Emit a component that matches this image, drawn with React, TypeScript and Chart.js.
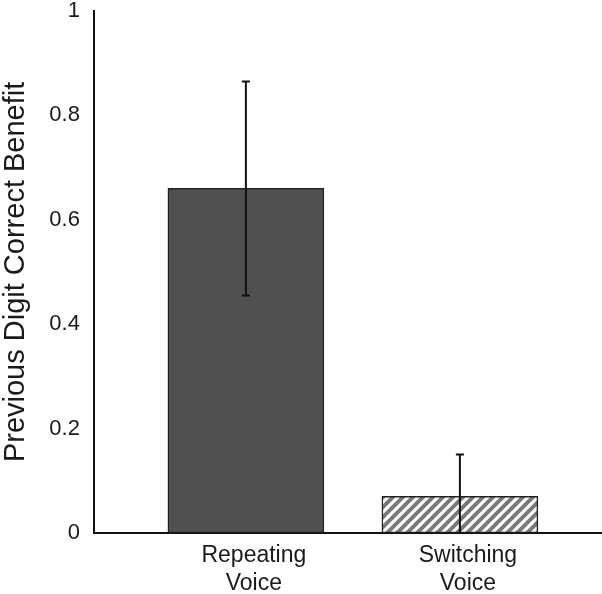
import React, { useEffect, useRef } from "react";
import { Chart, registerables } from "chart.js";

Chart.register(...registerables);

const categories: string[][] = [["Repeating", "Voice"], ["Switching", "Voice"]];
const positions = [1, 2];
const values = [0.66, 0.07];
const errors = [0.205, 0.08];
const yTicks = [0, 0.2, 0.4, 0.6, 0.8, 1];
const yTitle = "Previous Digit Correct Benefit";

const FONT = "'Liberation Sans', Arial, Helvetica, sans-serif";

function makeHatch(): CanvasPattern | string {
  const c = document.createElement("canvas");
  c.width = 10;
  c.height = 10;
  const g = c.getContext("2d");
  if (!g) return "#888";
  g.fillStyle = "#ffffff";
  g.fillRect(0, 0, 10, 10);
  g.strokeStyle = "#7a7a7a";
  g.lineWidth = 4;
  g.beginPath();
  g.moveTo(-2, 12); g.lineTo(12, -2);
  g.moveTo(-7, 7); g.lineTo(7, -7);
  g.moveTo(3, 17); g.lineTo(17, 3);
  g.stroke();
  const p = g.createPattern(c, "repeat");
  return p || "#888";
}

const errorBars = {
  id: "errorBars",
  afterDatasetsDraw(chart: any) {
    const { ctx, chartArea, scales } = chart;
    const y = scales.y;
    const meta = chart.getDatasetMeta(0);
    ctx.save();
    ctx.beginPath();
    ctx.rect(chartArea.left, chartArea.top, chartArea.right - chartArea.left, chartArea.bottom - chartArea.top);
    ctx.clip();
    ctx.strokeStyle = "#111";
    ctx.lineWidth = 2;
    values.forEach((v, i) => {
      const el = meta.data[i];
      const px = el.x;
      const top = y.getPixelForValue(v + errors[i]);
      const bot = y.getPixelForValue(v - errors[i]);
      ctx.beginPath();
      ctx.moveTo(px, top);
      ctx.lineTo(px, bot);
      ctx.moveTo(px - 4, top);
      ctx.lineTo(px + 4, top);
      ctx.moveTo(px - 4, bot);
      ctx.lineTo(px + 4, bot);
      ctx.stroke();
    });
    ctx.restore();
  },
};

export default function App() {
  const ref = useRef<HTMLCanvasElement>(null);
  useEffect(() => {
    if (!ref.current) return;
    const hatch = makeHatch();
    const chart = new Chart(ref.current, {
      type: "bar",
      data: {
        datasets: [
          {
            data: positions.map((p, i) => ({ x: p, y: values[i] })),
            backgroundColor: ["#505050", hatch as any],
            borderColor: "#222",
            borderWidth: 1.5,
            borderSkipped: false,
            barThickness: 156,
          },
        ],
      },
      options: {
        animation: false,
        responsive: false,
        maintainAspectRatio: false,
        layout: { padding: { left: -2, right: 0, top: 0, bottom: -12 } },
        plugins: { legend: { display: false }, tooltip: { enabled: false } },
        scales: {
          x: {
            type: "linear",
            offset: false,
            min: 0.29,
            max: 2.664,
            afterBuildTicks: (s: any) => {
              s.ticks = positions.map((v) => ({ value: v }));
            },
            grid: { display: false, drawTicks: false, offset: false },
            border: { display: true, color: "#111", width: 2 },
            ticks: {
              padding: 9,
              labelOffset: 8,
              maxRotation: 0,
              autoSkip: false,
              color: "#1a1a1a",
              font: { family: FONT, size: 23 },
              callback: (v: any) => {
                const i = positions.indexOf(Number(v));
                return i >= 0 ? categories[i] : "";
              },
            },
          },
          y: {
            min: 0,
            max: 1,
            afterBuildTicks: (s: any) => {
              s.ticks = yTicks.map((v) => ({ value: v }));
            },
            grid: { display: false, drawTicks: true, tickLength: 14 },
            border: { display: true, color: "#111", width: 2 },
            ticks: {
              padding: 0,
              color: "#1a1a1a",
              font: { family: FONT, size: 22, lineHeight: 1 },
              callback: (v: any) => String(Number(v)),
            },
            title: {
              display: true,
              text: yTitle,
              color: "#1a1a1a",
              font: { family: FONT, size: 29, lineHeight: 1.15 },
              padding: { top: 1, bottom: 17 },
            },
          },
        },
      },
      plugins: [errorBars],
    });
    return () => chart.destroy();
  }, []);
  return (
    <div style={{ position: "fixed", left: 0, top: 0, width: 602, height: 594, background: "#fff" }}>
      <canvas ref={ref} width={602} height={594} style={{ width: 602, height: 594 }} />
    </div>
  );
}
